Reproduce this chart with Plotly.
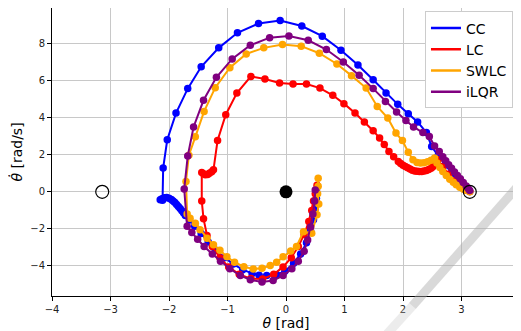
import math
import plotly.graph_objects as go

# ---------------- data (theta [rad], theta_dot [rad/s]) ----------------
cc_theta = [0.52, 0.52, 0.50, 0.47, 0.42, 0.35, 0.25, 0.13, -0.02, -0.16, -0.33, -0.46, -0.58,
            -0.74, -0.90, -1.05, -1.20, -1.33, -1.45, -1.56, -1.65, -1.72, -1.75, -1.78, -1.81,
            -1.84, -1.87, -1.90, -1.93, -1.96, -2.00, -2.04, -2.08, -2.12, -2.15, -2.11, -2.10,
            -2.03, -1.88, -1.68,
            -1.45, -1.15, -0.83, -0.47, -0.10, 0.27, 0.62, 0.94, 1.23, 1.49, 1.71, 1.91, 2.09,
            2.25, 2.40, 2.49, 2.60, 2.72, 2.84, 2.95, 3.04, 3.10, 3.14]
cc_dtheta = [0.10, -0.35, -0.90, -1.50, -2.10, -2.75, -3.35, -3.85, -4.28, -4.47, -4.52, -4.50, -4.40,
             -4.20, -3.90, -3.55, -3.15, -2.70, -2.25, -1.85, -1.52, -1.28, -1.14, -1.02, -0.90,
             -0.79, -0.68, -0.58, -0.49, -0.41, -0.35, -0.31, -0.32, -0.37, -0.43, -0.45, 1.28,
             2.81, 4.25, 5.57,
             6.75, 7.77, 8.58, 9.08, 9.24, 8.95, 8.40, 7.64, 6.84, 6.05, 5.33, 4.72, 4.22,
             3.77, 3.20, 2.45, 1.95, 1.45, 0.98, 0.60, 0.30, 0.12, 0.02]

lc_theta = [0.53, 0.50, 0.47, 0.44, 0.39, 0.31, 0.21, 0.09, -0.05, -0.21, -0.40, -0.60, -0.80,
            -0.98, -1.13, -1.26, -1.35, -1.41, -1.44, -1.44, -1.41, -1.38, -1.34, -1.31, -1.27,
            -1.24, -1.17, -1.03,
            -0.84, -0.60, -0.36, -0.11, 0.12, 0.35, 0.58, 0.80, 0.99, 1.18, 1.34, 1.49, 1.60,
            1.68, 1.76, 1.84, 1.92, 1.96, 2.00, 2.04, 2.08, 2.12, 2.16, 2.20, 2.24, 2.28, 2.32,
            2.36, 2.40, 2.44, 2.48, 2.51, 2.54, 2.57, 2.60, 2.68, 2.78, 2.88, 2.98, 3.07, 3.14]
lc_dtheta = [0.35, -0.10, -0.50, -1.00, -1.60, -2.30, -2.95, -3.55, -4.05, -4.45, -4.70, -4.68, -4.45,
             -4.05, -3.55, -2.95, -2.35, -1.45, -0.50, 1.04, 0.98, 0.92, 0.94, 1.00, 1.08,
             1.19, 2.77, 4.16,
             5.33, 6.23, 6.09, 5.87, 5.82, 5.82, 5.60, 5.21, 4.76, 4.25, 3.77, 3.30, 2.90,
             2.55, 2.18, 1.90, 1.64, 1.53, 1.44, 1.37, 1.30, 1.23, 1.17, 1.13, 1.11, 1.10, 1.10,
             1.12, 1.15, 1.20, 1.27, 1.36, 1.47, 1.60, 1.73, 1.35, 0.95, 0.60, 0.30, 0.10, 0.02]

swlc_theta = [0.55, 0.55, 0.54, 0.56, 0.53, 0.44, 0.30, 0.18, 0.08, -0.05, -0.16, -0.27, -0.41,
              -0.56, -0.72, -0.88, -1.01, -1.13, -1.24, -1.35, -1.47, -1.55, -1.64, -1.69, -1.71,
              -1.66, -1.55, -1.40, -1.21, -0.96, -0.68, -0.38, -0.06, 0.26, 0.57, 0.87, 1.12,
              1.37, 1.56, 1.74, 1.88, 1.99, 2.09, 2.17, 2.24, 2.30, 2.36, 2.42, 2.48, 2.54, 2.58,
              2.63, 2.68, 2.74, 2.80, 2.86, 2.91, 2.97, 3.03, 3.08, 3.14]
swlc_dtheta = [0.74, 0.30, -0.10, -0.66, -1.24, -2.23, -2.15, -2.95, -3.19, -3.50, -3.80, -3.98, -4.12,
               -4.16, -4.04, -3.80, -3.50, -3.15, -2.86, -2.50, -2.05, -1.69, -1.42, -1.20, 0.56,
               1.98, 2.97, 4.34, 5.62, 6.70, 7.44, 7.77, 7.95, 7.86, 7.48, 6.90, 6.27,
               5.60, 4.61, 3.98, 3.17, 2.77, 2.14, 1.73, 1.58, 1.55, 1.57, 1.63, 1.70, 1.82, 1.55,
               1.32, 1.10, 0.88, 0.68, 0.52, 0.38, 0.25, 0.15, 0.08, 0.01]

ilqr_theta = [0.50, 0.49, 0.46, 0.42, 0.37, 0.31, 0.21, 0.10, -0.05, -0.22, -0.41, -0.61, -0.78,
              -0.96, -1.12, -1.26, -1.40, -1.51, -1.61, -1.69, -1.74, -1.68, -1.58, -1.41, -1.19,
              -0.92, -0.61, -0.28, 0.05, 0.38, 0.69, 0.98, 1.25, 1.49, 1.70, 1.89, 2.05, 2.18,
              2.34, 2.45, 2.54, 2.62, 2.68, 2.73, 2.78, 2.83, 2.88, 2.93, 2.98, 3.03, 3.08, 3.12, 3.14]
ilqr_dtheta = [0.10, -0.50, -1.20, -1.90, -2.60, -3.20, -3.75, -4.15, -4.52, -4.78, -4.87, -4.74, -4.52,
               -4.15, -3.75, -3.35, -2.95, -2.56, -2.20, -1.86, 0.15, 1.93, 3.50, 4.94, 6.18,
               7.17, 7.91, 8.32, 8.41, 8.18, 7.68, 7.01, 6.29, 5.57, 4.88, 4.31, 3.85, 3.50,
               3.20, 2.99, 2.47, 2.18, 1.90, 1.68, 1.46, 1.27, 1.07, 0.88, 0.70, 0.50, 0.32, 0.15, 0.07]

series_names = ["CC", "LC", "SWLC", "iLQR"]
series_colors = ["#0000ff", "#ff0000", "#ffa500", "#800080"]
series_x = [cc_theta, lc_theta, swlc_theta, ilqr_theta]
series_y = [cc_dtheta, lc_dtheta, swlc_dtheta, ilqr_dtheta]

start_theta = [0.0]
start_dtheta = [0.0]
goal_theta = [-math.pi, math.pi]
goal_dtheta = [0.0, 0.0]

x_ticks = [-4, -3, -2, -1, 0, 1, 2, 3, 4]
y_ticks = [-4, -2, 0, 2, 4, 6, 8]

# ---------------- figure ----------------
fig = go.Figure()
for name, col, xs, ys in zip(series_names, series_colors, series_x, series_y):
    fig.add_trace(go.Scatter(x=xs, y=ys, mode="lines+markers", name=name,
                             line=dict(color=col, width=2),
                             marker=dict(color=col, size=7.5), showlegend=False))
# legend-only entries (lines only, like the reference)
for name, col in zip(series_names, series_colors):
    fig.add_trace(go.Scatter(x=[None], y=[None], mode="lines", name=name,
                             line=dict(color=col, width=2.5)))

fig.add_trace(go.Scatter(x=start_theta, y=start_dtheta, mode="markers", showlegend=False,
                         marker=dict(color="black", size=13)))
fig.add_trace(go.Scatter(x=goal_theta, y=goal_dtheta, mode="markers", showlegend=False,
                         marker=dict(symbol="circle-open", color="black", size=13,
                                     line=dict(width=1.2, color="black"))))

# faint diagonal decoration (pendulum rod) in the lower right
fig.add_shape(type="line", xref="paper", yref="paper", x0=0.77, y0=-0.035, x1=1.06, y1=0.50,
              line=dict(color="rgba(170,170,170,0.45)", width=9), layer="above")
fig.add_shape(type="line", xref="paper", yref="paper", x0=0.70, y0=-0.16, x1=0.77, y1=-0.035,
              line=dict(color="rgba(200,200,200,0.35)", width=9), layer="above")

axis_common = dict(showline=True, linecolor="black", linewidth=1, mirror=True,
                   ticks="outside", ticklen=4, tickcolor="black", tickwidth=1,
                   showgrid=True, gridcolor="#c8c8c8", gridwidth=1, zeroline=False,
                   automargin=False,
                   tickfont=dict(size=10, color="#222222", family="DejaVu Sans"))

# the page body has an 8px margin, so the figure is sized/offset to compensate
fig.update_layout(
    width=513, height=323,
    margin=dict(l=44, r=1, t=0, b=35),
    paper_bgcolor="white", plot_bgcolor="white",
    font=dict(family="DejaVu Sans", color="black"),
    xaxis=dict(range=[-4, 4], tickvals=x_ticks,
               title=dict(text="<i>θ</i> [rad]", font=dict(size=14), standoff=0),
               **axis_common),
    yaxis=dict(range=[-5.62, 9.92], tickvals=y_ticks,
               title=dict(text="<i>θ̇</i> [rad/s]", font=dict(size=14), standoff=8),
               **axis_common),
    legend=dict(x=0.985, y=0.988, xanchor="right", yanchor="top",
                bgcolor="white", bordercolor="#cccccc", borderwidth=1,
                font=dict(size=14), itemwidth=30, tracegroupgap=0),
)

fig.write_html("out.html")
